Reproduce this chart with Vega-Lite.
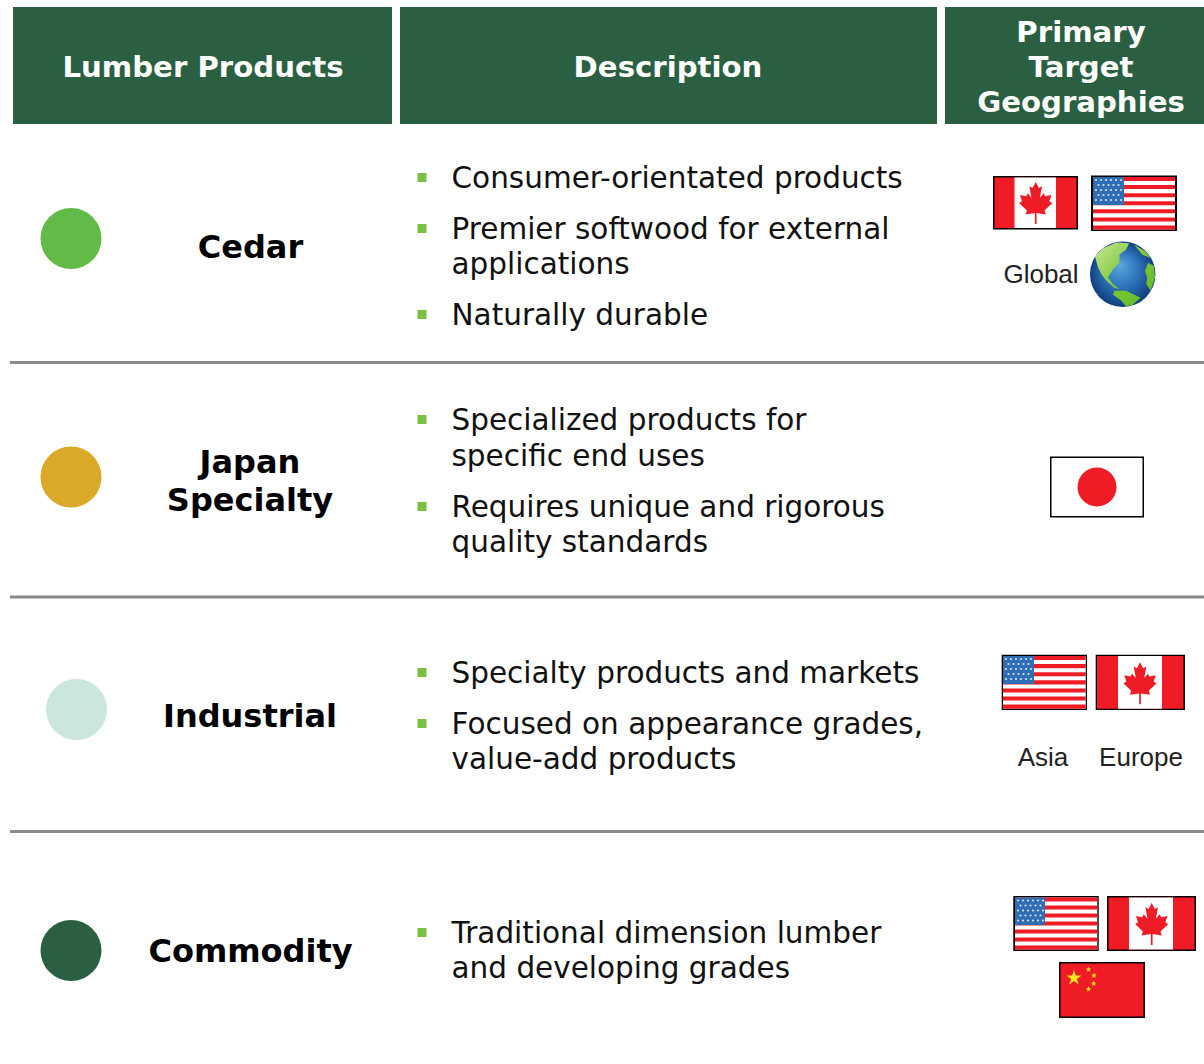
{"$schema":"https://vega.github.io/schema/vega-lite/v6.json","width":1204,"height":1064,"autosize":{"type":"fit","contains":"padding"},"padding":0,"background":"white","view":{"stroke":null},
"resolve":{"scale":{"color":"independent"}},
"encoding":{"x":{"field":"x","type":"quantitative","axis":null,"scale":{"domain":[0,1204],"nice":false,"zero":false}},"y":{"field":"y","type":"quantitative","axis":null,"scale":{"domain":[0,1064],"nice":false,"zero":false,"reverse":true}}},
"layer":[
{"mark":{"type":"rect"},"encoding":{"x2":{"field":"x2"},"y2":{"field":"y2"},"color":{"field":"part","type":"nominal","legend":null,"scale":{"domain":["header","rule","black","white","red","blue"],"range":["#2A6041","#8A8A8A","#000000","#FFFFFF","#EF1C25","#2F6DB5"]}}},
"data":{"values":[
{"x":13,"y":7,"x2":392,"y2":124,"part":"header"},{"x":400,"y":7,"x2":937,"y2":124,"part":"header"},{"x":945,"y":7,"x2":1204,"y2":124,"part":"header"},
{"x":10,"y":361,"x2":1204,"y2":364,"part":"rule"},{"x":10,"y":595.5,"x2":1204,"y2":598.5,"part":"rule"},{"x":10,"y":830,"x2":1204,"y2":833,"part":"rule"},
{"x":993,"y":176,"x2":1078,"y2":229.5,"part":"black"},{"x":994.5,"y":177.5,"x2":1076.5,"y2":228,"part":"red"},{"x":1014.5,"y":177.5,"x2":1056,"y2":228,"part":"white"},
{"x":1091,"y":175.5,"x2":1177,"y2":231,"part":"black"},{"x":1093,"y":177,"x2":1175,"y2":229.5,"part":"white"},
{"x":1093,"y":177,"x2":1175,"y2":181,"part":"red"},{"x":1093,"y":185.1,"x2":1175,"y2":189.1,"part":"red"},{"x":1093,"y":193.2,"x2":1175,"y2":197.2,"part":"red"},{"x":1093,"y":201.2,"x2":1175,"y2":205.3,"part":"red"},{"x":1093,"y":209.3,"x2":1175,"y2":213.3,"part":"red"},{"x":1093,"y":217.4,"x2":1175,"y2":221.4,"part":"red"},{"x":1093,"y":225.5,"x2":1175,"y2":229.5,"part":"red"},
{"x":1093,"y":177,"x2":1124,"y2":205,"part":"blue"},
{"x":1050,"y":456.5,"x2":1144,"y2":517.5,"part":"black"},{"x":1051.5,"y":458,"x2":1142.5,"y2":516,"part":"white"},
{"x":1001.7,"y":654.7,"x2":1087,"y2":710,"part":"black"},{"x":1003,"y":656,"x2":1085.8,"y2":708.7,"part":"white"},
{"x":1003,"y":656,"x2":1085.8,"y2":660,"part":"red"},{"x":1003,"y":664.1,"x2":1085.8,"y2":668.2,"part":"red"},{"x":1003,"y":672.2,"x2":1085.8,"y2":676.3,"part":"red"},{"x":1003,"y":680.3,"x2":1085.8,"y2":684.4,"part":"red"},{"x":1003,"y":688.4,"x2":1085.8,"y2":692.5,"part":"red"},{"x":1003,"y":696.5,"x2":1085.8,"y2":700.6,"part":"red"},{"x":1003,"y":704.6,"x2":1085.8,"y2":708.7,"part":"red"},
{"x":1003,"y":656,"x2":1034,"y2":684,"part":"blue"},
{"x":1095.7,"y":654.7,"x2":1185,"y2":710,"part":"black"},{"x":1097,"y":656,"x2":1183.5,"y2":708.7,"part":"red"},{"x":1118,"y":656,"x2":1162,"y2":708.7,"part":"white"},
{"x":1013.3,"y":896,"x2":1098.7,"y2":951,"part":"black"},{"x":1015,"y":897.5,"x2":1097.3,"y2":949.5,"part":"white"},
{"x":1015,"y":897.5,"x2":1097.3,"y2":901.5,"part":"red"},{"x":1015,"y":905.5,"x2":1097.3,"y2":909.5,"part":"red"},{"x":1015,"y":913.5,"x2":1097.3,"y2":917.5,"part":"red"},{"x":1015,"y":921.5,"x2":1097.3,"y2":925.5,"part":"red"},{"x":1015,"y":929.5,"x2":1097.3,"y2":933.5,"part":"red"},{"x":1015,"y":937.5,"x2":1097.3,"y2":941.5,"part":"red"},{"x":1015,"y":945.5,"x2":1097.3,"y2":949.5,"part":"red"},
{"x":1015,"y":897.5,"x2":1045,"y2":925,"part":"blue"},
{"x":1107,"y":896,"x2":1196,"y2":951,"part":"black"},{"x":1108.5,"y":897.5,"x2":1194.5,"y2":949.5,"part":"red"},{"x":1129,"y":897.5,"x2":1173,"y2":949.5,"part":"white"},
{"x":1059,"y":962,"x2":1145,"y2":1018,"part":"black"},{"x":1060.5,"y":963.5,"x2":1143.5,"y2":1016.5,"part":"red"}
]}},
{"mark":{"type":"point","filled":true,"opacity":1,"size":3721,"shape":"circle"},"encoding":{"color":{"field":"product","type":"nominal","legend":null,"scale":{"domain":["Cedar","Japan Specialty","Industrial","Commodity"],"range":["#62BB46","#DAA927","#CBE6DA","#2A6041"]}}},
"data":{"values":[{"x":71,"y":238.5,"product":"Cedar"},{"x":71,"y":477,"product":"Japan Specialty"},{"x":76.5,"y":709.5,"product":"Industrial"},{"x":71,"y":950.5,"product":"Commodity"}]}},
{"mark":{"type":"point","filled":true,"opacity":1,"size":81,"shape":"square","color":"#7AC143"},
"data":{"values":[{"x":422,"y":177.5},{"x":422,"y":228.5},{"x":422,"y":314.5},{"x":422,"y":419.5},{"x":422,"y":506.5},{"x":422,"y":672.5},{"x":422,"y":723.5},{"x":422,"y":932.5}]}},
{"mark":{"type":"point","filled":true,"opacity":1,"size":1764,"color":"#EF1C25","shape":"M0,-1L0.15,-0.72L0.3,-0.8L0.2,-0.25L0.38,-0.46L0.45,-0.32L0.75,-0.38L0.65,-0.08L0.79,0L0.42,0.36L0.48,0.55L0.04,0.48L0.04,1L-0.04,1L-0.04,0.48L-0.48,0.55L-0.42,0.36L-0.79,0L-0.65,-0.08L-0.75,-0.38L-0.45,-0.32L-0.38,-0.46L-0.2,-0.25L-0.3,-0.8L-0.15,-0.72Z"},
"data":{"values":[{"x":1035.7,"y":203},{"x":1140,"y":683.3},{"x":1151.7,"y":924}]}},
{"mark":{"type":"point","filled":true,"opacity":1,"size":1520,"color":"#EF1C25","shape":"circle"},"data":{"values":[{"x":1097,"y":487}]}},
{"mark":{"type":"point","filled":true,"opacity":1,"size":256,"color":"#FFE41A","shape":"M0,-1L0.22,-0.31L0.95,-0.31L0.36,0.12L0.59,0.81L0,0.38L-0.59,0.81L-0.36,0.12L-0.95,-0.31L-0.22,-0.31Z"},"data":{"values":[{"x":1074,"y":978}]}},
{"mark":{"type":"point","filled":true,"opacity":1,"size":36,"color":"#FFE41A","shape":"M0,-1L0.22,-0.31L0.95,-0.31L0.36,0.12L0.59,0.81L0,0.38L-0.59,0.81L-0.36,0.12L-0.95,-0.31L-0.22,-0.31Z"},"data":{"values":[{"x":1088.5,"y":969.5},{"x":1094,"y":975.5},{"x":1093.7,"y":983.5},{"x":1088.5,"y":989}]}},
{"mark":{"type":"point","filled":true,"opacity":0.8,"size":5,"color":"#FFFFFF","shape":"circle"},
"data":{"values":[
{"x":1096,"y":180},{"x":1101,"y":180},{"x":1106,"y":180},{"x":1111,"y":180},{"x":1116,"y":180},{"x":1121,"y":180},{"x":1098.5,"y":185},{"x":1103.5,"y":185},{"x":1108.5,"y":185},{"x":1113.5,"y":185},{"x":1118.5,"y":185},{"x":1096,"y":190},{"x":1101,"y":190},{"x":1106,"y":190},{"x":1111,"y":190},{"x":1116,"y":190},{"x":1121,"y":190},{"x":1098.5,"y":195},{"x":1103.5,"y":195},{"x":1108.5,"y":195},{"x":1113.5,"y":195},{"x":1118.5,"y":195},{"x":1096,"y":200},{"x":1101,"y":200},{"x":1106,"y":200},{"x":1111,"y":200},{"x":1116,"y":200},{"x":1121,"y":200},
{"x":1006,"y":659},{"x":1011,"y":659},{"x":1016,"y":659},{"x":1021,"y":659},{"x":1026,"y":659},{"x":1031,"y":659},{"x":1008.5,"y":664},{"x":1013.5,"y":664},{"x":1018.5,"y":664},{"x":1023.5,"y":664},{"x":1028.5,"y":664},{"x":1006,"y":669},{"x":1011,"y":669},{"x":1016,"y":669},{"x":1021,"y":669},{"x":1026,"y":669},{"x":1031,"y":669},{"x":1008.5,"y":674},{"x":1013.5,"y":674},{"x":1018.5,"y":674},{"x":1023.5,"y":674},{"x":1028.5,"y":674},{"x":1006,"y":679},{"x":1011,"y":679},{"x":1016,"y":679},{"x":1021,"y":679},{"x":1026,"y":679},{"x":1031,"y":679},
{"x":1018,"y":900.5},{"x":1023,"y":900.5},{"x":1028,"y":900.5},{"x":1033,"y":900.5},{"x":1038,"y":900.5},{"x":1043,"y":900.5},{"x":1020.5,"y":905.5},{"x":1025.5,"y":905.5},{"x":1030.5,"y":905.5},{"x":1035.5,"y":905.5},{"x":1040.5,"y":905.5},{"x":1018,"y":910.5},{"x":1023,"y":910.5},{"x":1028,"y":910.5},{"x":1033,"y":910.5},{"x":1038,"y":910.5},{"x":1043,"y":910.5},{"x":1020.5,"y":915.5},{"x":1025.5,"y":915.5},{"x":1030.5,"y":915.5},{"x":1035.5,"y":915.5},{"x":1040.5,"y":915.5},{"x":1018,"y":920.5},{"x":1023,"y":920.5},{"x":1028,"y":920.5},{"x":1033,"y":920.5},{"x":1038,"y":920.5},{"x":1043,"y":920.5}
]}},
{"mark":{"type":"point","filled":true,"opacity":1,"size":4277,"shape":"circle","fill":{"gradient":"radial","x1":0.45,"y1":0.35,"x2":0.5,"y2":0.5,"r1":0,"r2":0.52,"stops":[{"offset":0,"color":"#5AAAE0"},{"offset":0.55,"color":"#2A6FB5"},{"offset":1,"color":"#0F3A78"}]}},"data":{"values":[{"x":1122.7,"y":274.3}]}},
{"mark":{"type":"point","filled":true,"opacity":1,"size":4277,"fill":{"gradient":"linear","x1":0,"y1":0,"x2":1,"y2":1,"stops":[{"offset":0,"color":"#C8E696"},{"offset":0.5,"color":"#7CC636"},{"offset":1,"color":"#5DB825"}]},"shape":"M-0.85,-0.55L-0.6,-0.8L-0.2,-0.97L0.2,-0.95L0.1,-0.75L-0.1,-0.6L-0.1,-0.35L-0.3,-0.15L-0.45,0.1L-0.3,0.3L-0.1,0.45L-0.25,0.42L-0.5,0.2L-0.65,0L-0.75,-0.2ZM0.35,-0.9L0.7,-0.7L0.85,-0.5L0.6,-0.6ZM-0.25,0.5L0.1,0.5L0.55,0.72L0.3,0.94L0.1,0.98L-0.05,0.8L-0.3,0.62ZM0.78,-0.35L0.95,-0.25L0.99,0.1L0.85,0.5L0.72,0.3L0.75,0.1L0.68,-0.1Z"},"data":{"values":[{"x":1122.7,"y":274.3}]}},
{"mark":{"type":"text","font":"DejaVu Sans","fontWeight":"bold","fontSize":29.2,"color":"white","align":"center","baseline":"middle"},"encoding":{"text":{"field":"label"}},
"data":{"values":[{"x":203,"y":67.5,"label":"Lumber Products"},{"x":668,"y":67.5,"label":"Description"},{"x":1081,"y":33,"label":"Primary"},{"x":1081,"y":68,"label":"Target"},{"x":1081,"y":103,"label":"Geographies"}]}},
{"mark":{"type":"text","font":"DejaVu Sans","fontWeight":"bold","fontSize":32,"color":"black","align":"center","baseline":"middle"},"encoding":{"text":{"field":"label"}},
"data":{"values":[{"x":250.5,"y":248,"label":"Cedar"},{"x":250,"y":463,"label":"Japan"},{"x":250,"y":501,"label":"Specialty"},{"x":250,"y":717,"label":"Industrial"},{"x":250.5,"y":952,"label":"Commodity"}]}},
{"mark":{"type":"text","font":"DejaVu Sans","fontSize":29.5,"color":"#111111","align":"left","baseline":"middle"},"encoding":{"text":{"field":"label"}},
"data":{"values":[{"x":451.5,"y":179,"label":"Consumer-orientated products"},{"x":451.5,"y":230,"label":"Premier softwood for external"},{"x":451.5,"y":265,"label":"applications"},{"x":451.5,"y":316,"label":"Naturally durable"},{"x":451.5,"y":421,"label":"Specialized products for"},{"x":451.5,"y":457,"label":"specific end uses"},{"x":451.5,"y":508,"label":"Requires unique and rigorous"},{"x":451.5,"y":543,"label":"quality standards"},{"x":451.5,"y":674,"label":"Specialty products and markets"},{"x":451.5,"y":725,"label":"Focused on appearance grades,"},{"x":451.5,"y":760,"label":"value-add products"},{"x":451.5,"y":934,"label":"Traditional dimension lumber"},{"x":451.5,"y":969,"label":"and developing grades"}]}},
{"mark":{"type":"text","font":"Liberation Sans","fontSize":26,"color":"#222222","align":"center","baseline":"middle"},"encoding":{"text":{"field":"label"}},
"data":{"values":[{"x":1041,"y":275,"label":"Global"},{"x":1043,"y":758,"label":"Asia"},{"x":1141,"y":758,"label":"Europe"}]}}
]}
